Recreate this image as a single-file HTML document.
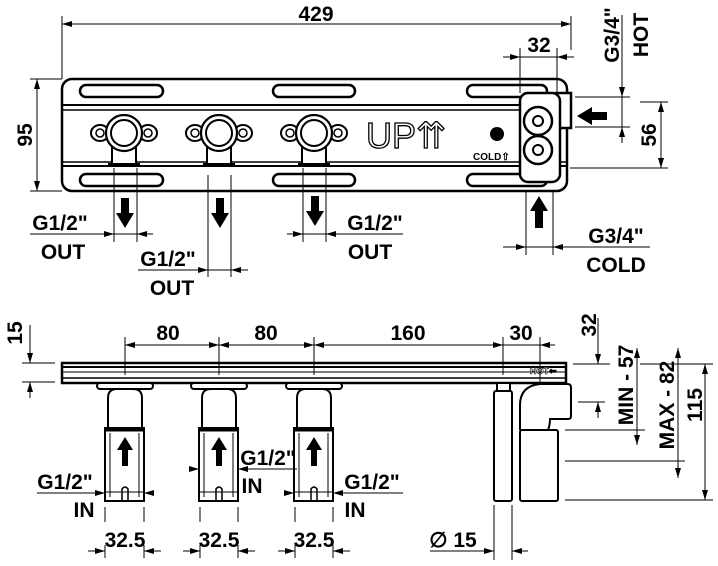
<!DOCTYPE html>
<html><head><meta charset="utf-8"><style>
html,body{margin:0;padding:0;background:#fff}
svg{display:block}
text{font-family:"Liberation Sans",sans-serif;font-weight:bold;fill:#000}
</style></head><body>
<svg width="718" height="566" viewBox="0 0 718 566" xmlns="http://www.w3.org/2000/svg">
<defs>
<marker id="a" viewBox="0 0 10 6" refX="10" refY="3" markerWidth="10" markerHeight="6" orient="auto-start-reverse" markerUnits="userSpaceOnUse"><path d="M0,0L10,3L0,6z" fill="#000"/></marker>
<g id="fit">
<rect x="-12" y="145" width="24" height="20" fill="#fff" stroke="#000" stroke-width="2"/>
<rect x="-16" y="163" width="32" height="4" fill="#000"/>
<ellipse cx="-24" cy="133" rx="9" ry="8" fill="#fff" stroke="#000" stroke-width="2"/>
<ellipse cx="24" cy="133" rx="9" ry="8" fill="#fff" stroke="#000" stroke-width="2"/>
<circle cx="-24" cy="133" r="4" fill="none" stroke="#000" stroke-width="1.5"/>
<circle cx="24" cy="133" r="4" fill="none" stroke="#000" stroke-width="1.5"/>
<circle cx="0" cy="133" r="18" fill="#fff" stroke="#000" stroke-width="2.2"/>
<circle cx="0" cy="133" r="13" fill="#fff" stroke="#000" stroke-width="2"/>
</g>
<g id="val">
<rect x="-28" y="383" width="56" height="6" fill="#fff" stroke="#000" stroke-width="2" rx="3"/>
<path d="M-17,428 V398 Q-17,389 -8,389 H8 Q17,389 17,398 V428" fill="#fff" stroke="#000" stroke-width="2"/>
<rect x="-20" y="428" width="39" height="73" fill="#fff" stroke="#000" stroke-width="2"/>
<line x1="-20" y1="430" x2="19" y2="430" stroke="#000" stroke-width="3"/>
<line x1="-15" y1="433" x2="-15" y2="497" stroke="#000" stroke-width="1"/>
<line x1="14" y1="433" x2="14" y2="497" stroke="#000" stroke-width="1"/>
<line x1="-20" y1="492" x2="19" y2="492" stroke="#000" stroke-width="1"/>
<path d="M-3,501 V489 Q0,485 3,489 V501" fill="none" stroke="#000" stroke-width="1.5"/>
<path d="M-3,466 V450 H-8 L0,437 L8,450 H3 V466Z" fill="#000"/>
</g>
</defs>
<g stroke="#000" fill="none">
<rect x="62" y="79" width="505" height="112" rx="10" stroke-width="2.5"/>
<line x1="62" y1="105" x2="567" y2="105" stroke-width="2"/>
<line x1="62" y1="110" x2="567" y2="110" stroke-width="1.5"/>
<line x1="62" y1="162" x2="567" y2="162" stroke-width="1.5"/>
<line x1="62" y1="166" x2="567" y2="166" stroke-width="2"/>
<g stroke-width="2.5">
<rect x="80" y="85" width="83" height="12" rx="6"/><rect x="273" y="85" width="82" height="12" rx="6"/><rect x="467" y="85" width="80" height="12" rx="6"/>
<rect x="80" y="174" width="83" height="12" rx="6"/><rect x="273" y="174" width="82" height="12" rx="6"/><rect x="467" y="174" width="80" height="12" rx="6"/>
</g>
</g>
<use href="#fit" x="124" y="0"/>
<use href="#fit" x="219" y="0"/>
<use href="#fit" x="314" y="0"/>
<text x="366" y="148" font-size="36" style="font-weight:normal;fill:#fff;stroke:#000;stroke-width:1.3">UP⇈</text>
<circle cx="497" cy="134" r="7" fill="#000"/>
<text x="473" y="160" font-size="10">COLD⇧</text>
<g stroke="#000" stroke-width="2.5">
<rect x="556" y="93" width="15" height="35" fill="#fff"/>
<rect x="520" y="93" width="40" height="89" rx="8" fill="#fff"/>
<circle cx="538" cy="121" r="14" fill="#fff"/><circle cx="538" cy="150" r="14" fill="#fff"/>
<circle cx="538" cy="121" r="5" fill="none" stroke-width="2"/><circle cx="538" cy="150" r="5" fill="none" stroke-width="2"/>
</g>
<g stroke="#000" stroke-width="1" fill="none">
<line x1="62" y1="16" x2="62" y2="79"/><line x1="571" y1="16" x2="571" y2="50"/>
<line x1="62" y1="24" x2="571" y2="24" marker-start="url(#a)" marker-end="url(#a)"/>
<line x1="520" y1="48" x2="520" y2="93"/><line x1="557" y1="48" x2="557" y2="93"/>
<line x1="503" y1="57" x2="520" y2="57" marker-end="url(#a)"/><line x1="520" y1="57" x2="557" y2="57"/><line x1="574" y1="57" x2="557" y2="57" marker-end="url(#a)"/>
<line x1="622" y1="15" x2="622" y2="97" marker-end="url(#a)"/><line x1="622" y1="143" x2="622" y2="127" marker-end="url(#a)"/><line x1="622" y1="97" x2="622" y2="127"/>
<line x1="575" y1="97" x2="630" y2="97"/><line x1="575" y1="127" x2="630" y2="127"/>
<line x1="640" y1="102" x2="668" y2="102"/><line x1="570" y1="168" x2="668" y2="168"/>
<line x1="661" y1="102" x2="661" y2="168" marker-start="url(#a)" marker-end="url(#a)"/>
<line x1="30" y1="79" x2="62" y2="79"/><line x1="30" y1="191" x2="62" y2="191"/>
<line x1="37" y1="79" x2="37" y2="191" marker-start="url(#a)" marker-end="url(#a)"/>
<line x1="526" y1="191" x2="526" y2="255"/><line x1="553" y1="191" x2="553" y2="255"/>
<line x1="503" y1="247" x2="526" y2="247" marker-end="url(#a)"/><line x1="526" y1="247" x2="553" y2="247"/><line x1="650" y1="247" x2="553" y2="247" marker-end="url(#a)"/>
<line x1="114" y1="168" x2="114" y2="242"/><line x1="137" y1="168" x2="137" y2="242"/>
<line x1="30" y1="234" x2="114" y2="234" marker-end="url(#a)"/><line x1="114" y1="234" x2="137" y2="234"/><line x1="153" y1="234" x2="137" y2="234" marker-end="url(#a)"/>
<line x1="208" y1="175" x2="208" y2="277"/><line x1="231" y1="175" x2="231" y2="277"/>
<line x1="138" y1="270" x2="208" y2="270" marker-end="url(#a)"/><line x1="208" y1="270" x2="231" y2="270"/><line x1="248" y1="270" x2="231" y2="270" marker-end="url(#a)"/>
<line x1="303" y1="168" x2="303" y2="242"/><line x1="326" y1="168" x2="326" y2="242"/>
<line x1="287" y1="234" x2="303" y2="234" marker-end="url(#a)"/><line x1="303" y1="234" x2="326" y2="234"/><line x1="403" y1="234" x2="326" y2="234" marker-end="url(#a)"/>
</g>
<g fill="#000">
<path d="M121,198 V213 H116 L125,228 L134,213 H129 V198Z"/>
<path d="M216,198 V213 H211 L220,228 L229,213 H224 V198Z"/>
<path d="M311,196 V211 H306 L315,226 L324,211 H319 V196Z"/>
<path d="M535,228 V211 H530 L539,196 L548,211 H543 V228Z"/>
<path d="M607,112 V120 H592 V125 L577,116 L592,107 V112Z"/>
</g>
<g font-size="21">
<text x="316" y="21" text-anchor="middle">429</text>
<text x="539" y="52" text-anchor="middle">32</text>
<text transform="translate(32,135) rotate(-90)" text-anchor="middle">95</text>
<text transform="translate(619,35) rotate(-90)" text-anchor="middle">G3/4"</text>
<text transform="translate(648,35) rotate(-90)" text-anchor="middle">HOT</text>
<text transform="translate(656,135) rotate(-90)" text-anchor="middle">56</text>
<text x="616" y="243" text-anchor="middle">G3/4"</text>
<text x="616" y="272" text-anchor="middle">COLD</text>
<text x="60" y="230" text-anchor="middle">G1/2"</text>
<text x="63" y="259" text-anchor="middle">OUT</text>
<text x="168" y="266" text-anchor="middle">G1/2"</text>
<text x="172" y="295" text-anchor="middle">OUT</text>
<text x="375" y="230" text-anchor="middle">G1/2"</text>
<text x="370" y="259" text-anchor="middle">OUT</text>
</g>
<g stroke="#000" fill="none">
<rect x="62" y="363" width="504" height="20" stroke-width="2.5"/>
<line x1="62" y1="367" x2="566" y2="367" stroke-width="2"/>
<line x1="62" y1="372" x2="566" y2="372" stroke-width="1"/>
<line x1="62" y1="378" x2="566" y2="378" stroke-width="1.5"/>
</g>
<use href="#val" x="125" y="0"/>
<use href="#val" x="219" y="0"/>
<use href="#val" x="314" y="0"/>
<g stroke="#000" stroke-width="2" fill="#fff">
<rect x="497" y="383" width="13" height="10"/>
<rect x="494" y="391" width="18" height="110" rx="2"/>
<path d="M520,430 V405 Q520,386 540,384 H568 Q571,384 571,388 V416 Q571,419 568,419 H550 Q550,425 548,430" />
<rect x="520" y="430" width="38" height="71" rx="2"/>
</g>
<text x="530" y="374" font-size="9" style="fill:#fff;stroke:#000;stroke-width:0.6">HOT⇐</text>
<g stroke="#000" stroke-width="1" fill="none">
<line x1="22" y1="363" x2="55" y2="363"/><line x1="22" y1="382" x2="55" y2="382"/>
<line x1="30" y1="325" x2="30" y2="363" marker-end="url(#a)"/><line x1="30" y1="398" x2="30" y2="382" marker-end="url(#a)"/>
<line x1="125" y1="337" x2="125" y2="375"/><line x1="219" y1="337" x2="219" y2="375"/><line x1="314" y1="337" x2="314" y2="375"/>
<line x1="503" y1="337" x2="503" y2="375"/><line x1="540" y1="337" x2="540" y2="383"/>
<line x1="125" y1="345" x2="219" y2="345" marker-start="url(#a)" marker-end="url(#a)"/>
<line x1="219" y1="345" x2="314" y2="345" marker-start="url(#a)" marker-end="url(#a)"/>
<line x1="314" y1="345" x2="503" y2="345" marker-start="url(#a)" marker-end="url(#a)"/>
<line x1="555" y1="345" x2="540" y2="345" marker-end="url(#a)"/><line x1="503" y1="345" x2="540" y2="345"/>
<line x1="37" y1="493" x2="105" y2="493" marker-end="url(#a)"/><line x1="153" y1="493" x2="144" y2="493" marker-end="url(#a)"/>
<line x1="190" y1="469" x2="199" y2="469" marker-end="url(#a)"/><line x1="297" y1="469" x2="238" y2="469" marker-end="url(#a)"/>
<line x1="287" y1="493" x2="294" y2="493" marker-end="url(#a)"/><line x1="403" y1="493" x2="333" y2="493" marker-end="url(#a)"/>
<line x1="105" y1="507" x2="105" y2="522"/><line x1="144" y1="507" x2="144" y2="522"/><line x1="105" y1="545" x2="105" y2="558"/><line x1="144" y1="545" x2="144" y2="558"/>
<line x1="88" y1="551" x2="105" y2="551" marker-end="url(#a)"/><line x1="161" y1="551" x2="144" y2="551" marker-end="url(#a)"/>
<line x1="200" y1="507" x2="200" y2="522"/><line x1="238" y1="507" x2="238" y2="522"/><line x1="200" y1="545" x2="200" y2="558"/><line x1="238" y1="545" x2="238" y2="558"/>
<line x1="183" y1="551" x2="200" y2="551" marker-end="url(#a)"/><line x1="255" y1="551" x2="238" y2="551" marker-end="url(#a)"/>
<line x1="295" y1="507" x2="295" y2="522"/><line x1="333" y1="507" x2="333" y2="522"/><line x1="295" y1="545" x2="295" y2="558"/><line x1="333" y1="545" x2="333" y2="558"/>
<line x1="278" y1="551" x2="295" y2="551" marker-end="url(#a)"/><line x1="350" y1="551" x2="333" y2="551" marker-end="url(#a)"/>
<line x1="494" y1="505" x2="494" y2="560"/><line x1="512" y1="505" x2="512" y2="560"/>
<line x1="430" y1="551" x2="494" y2="551" marker-end="url(#a)"/><line x1="528" y1="551" x2="512" y2="551" marker-end="url(#a)"/>
<line x1="573" y1="364" x2="610" y2="364"/><line x1="578" y1="402" x2="605" y2="402"/>
<line x1="598" y1="318" x2="598" y2="364" marker-end="url(#a)"/><line x1="598" y1="418" x2="598" y2="402" marker-end="url(#a)"/>
<line x1="565" y1="430" x2="645" y2="430"/>
<line x1="637" y1="348" x2="637" y2="445" marker-start="url(#a)" marker-end="url(#a)"/>
<line x1="565" y1="461" x2="685" y2="461"/>
<line x1="678" y1="348" x2="678" y2="478" marker-start="url(#a)" marker-end="url(#a)"/>
<line x1="640" y1="364" x2="713" y2="364"/><line x1="565" y1="500" x2="713" y2="500"/>
<line x1="705" y1="364" x2="705" y2="500" marker-start="url(#a)" marker-end="url(#a)"/>
</g>
<g font-size="21">
<text transform="translate(22,333) rotate(-90)" text-anchor="middle">15</text>
<text x="168" y="340" text-anchor="middle">80</text>
<text x="266" y="340" text-anchor="middle">80</text>
<text x="408" y="340" text-anchor="middle">160</text>
<text x="521" y="340" text-anchor="middle">30</text>
<text x="65" y="489" text-anchor="middle">G1/2"</text>
<text x="84" y="517" text-anchor="middle">IN</text>
<text x="268" y="465" text-anchor="middle">G1/2"</text>
<text x="252" y="493" text-anchor="middle">IN</text>
<text x="372" y="489" text-anchor="middle">G1/2"</text>
<text x="355" y="517" text-anchor="middle">IN</text>
<text x="125" y="547" text-anchor="middle">32.5</text>
<text x="219" y="547" text-anchor="middle">32.5</text>
<text x="314" y="547" text-anchor="middle">32.5</text>
<text x="453" y="547" text-anchor="middle">∅ 15</text>
<text transform="translate(596,325) rotate(-90)" text-anchor="middle">32</text>
<text transform="translate(633,385) rotate(-90)" text-anchor="middle">MIN - 57</text>
<text transform="translate(674,405) rotate(-90)" text-anchor="middle">MAX - 82</text>
<text transform="translate(702,405) rotate(-90)" text-anchor="middle">115</text>
</g>
</svg>
</body></html>
